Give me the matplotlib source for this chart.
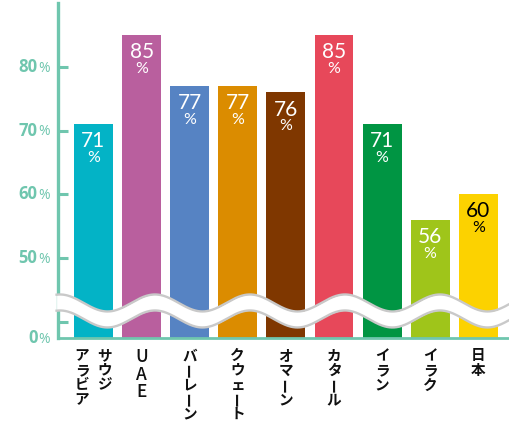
import numpy as np
import matplotlib
matplotlib.use('Agg')
import matplotlib.pyplot as plt

# data
countries = ['サウジ\nアラビア', 'UAE', 'バーレーン', 'クウェート', 'オマーン',
             'カタール', 'イラン', 'イラク', '日本']
values = [71, 85, 77, 77, 76, 85, 71, 56, 60]
ytick_values = [50, 60, 70, 80]
bar_colors = ['#03b3c6', '#b95f9e', '#5683c3', '#db8c00', '#7f3700',
              '#e7485a', '#009543', '#9fc51a', '#fcd200']
text_colors = ['white'] * 8 + ['black']

teal = '#6fc6ae'
jp_font = ['Noto Sans CJK JP', 'DejaVu Sans']
num_font = ['Lato', 'DejaVu Sans']
tick_font = ['Open Sans', 'DejaVu Sans']

# layout (pixels -> data helpers)
y_bottom, y_top = 37.43, 90.05
x_left, x_right = -0.738, 8.618
px_per_unit = 6.367
px_per_bar = 48.1

fig = plt.figure(figsize=(5.09, 4.24), dpi=100)
ax = fig.add_axes([58 / 509, 86 / 424, 450 / 509, 335 / 424])

x = np.arange(len(values))
ax.bar(x, values, width=0.81, color=bar_colors, zorder=2)
ax.set_xlim(x_left, x_right)
ax.set_ylim(y_bottom, y_top)

for s in ['top', 'right']:
    ax.spines[s].set_visible(False)
ax.spines['left'].set_color(teal)
ax.spines['left'].set_linewidth(2.4)
ax.spines['bottom'].set_color(teal)
ax.spines['bottom'].set_linewidth(2.0)
ax.spines['bottom'].set_zorder(6)

ax.set_xticks([])
ax.set_yticks([40] + ytick_values)
ax.tick_params(axis='y', direction='in', length=7.5, width=2.2,
               color=teal, labelleft=False)

# y tick labels: number + smaller %
for v, lab in zip([y_bottom] + ytick_values, ['0'] + [str(t) for t in ytick_values]):
    ax.annotate('%', xy=(0, v), xycoords=('axes fraction', 'data'),
                xytext=(-5.8, -0.8), textcoords='offset points', ha='right',
                va='center', fontsize=10, color=teal, family=tick_font,
                annotation_clip=False)
    ax.annotate(lab, xy=(0, v), xycoords=('axes fraction', 'data'),
                xytext=(-14.8, 0), textcoords='offset points', ha='right',
                va='center', fontsize=12, fontweight='bold', color=teal,
                family=tick_font, annotation_clip=False)

# value labels inside bars
for i, v in enumerate(values):
    ax.annotate(str(v), xy=(i, v), xytext=(0, -12.3), textcoords='offset points',
                ha='center', va='center', fontsize=15, color=text_colors[i],
                family=num_font, zorder=3)
    ax.annotate('%', xy=(i, v), xytext=(0, -24.5), textcoords='offset points',
                ha='center', va='center', fontsize=11.5, color=text_colors[i],
                family=num_font, zorder=3)

# wavy break
period = 95 / px_per_bar
crest = (440 - 93.5) / px_per_bar
amp = 8.5 / px_per_unit
center = 50 + (258 - 303) / px_per_unit
band = 16 / px_per_unit
xs = np.linspace(x_left - 0.03, x_right + 0.02, 600)
upper = center + amp * np.cos(2 * np.pi * (xs - crest) / period)
lower = upper - band
ax.fill_between(xs, lower, upper, color='white', lw=0, zorder=4, clip_on=False)
ax.plot(xs, upper, color='#c9c9c9', lw=1.7, zorder=5, clip_on=False)
ax.plot(xs, lower, color='#c9c9c9', lw=1.7, zorder=5, clip_on=False)

# vertical japanese category labels
col_gap = 16.5
for i, name in enumerate(countries):
    cols = name.split('\n')
    n = len(cols)
    for j, col in enumerate(cols):
        dx = ((n - 1) / 2 - j) * col_gap
        dy = -12.5
        for ch in col:
            latin = ch.isascii()
            ax.annotate(ch, xy=(i, y_bottom), xytext=(dx, dy - (1.5 if latin else 0)),
                        textcoords='offset points', ha='center', va='center',
                        fontsize=12.5 if latin else 10.5,
                        fontweight='medium' if latin else 'bold',
                        color='#111111', family=jp_font,
                        rotation=90 if ch == 'ー' else 0,
                        rotation_mode='anchor', annotation_clip=False)
            dy -= 12.3 if latin else 10.5

fig.savefig('out.png', dpi=100)
